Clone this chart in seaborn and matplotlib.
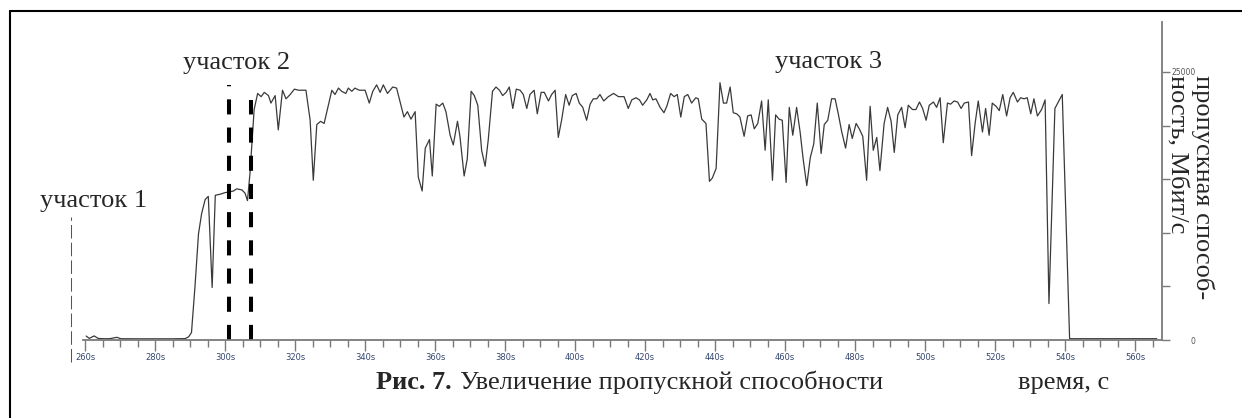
import matplotlib
matplotlib.use("Agg")
import matplotlib.pyplot as plt
from matplotlib.lines import Line2D
import seaborn as sns
import pandas as pd

# throughput trace: time (s) and Mbit/s
time_s = [
    260.3, 261.2, 262.6, 263.7, 265.0, 267.0, 269.1, 270.2, 275.0, 280.0,
    285.0, 288.6, 289.6, 290.4, 291.4, 292.4, 293.3, 294.3, 295.2, 296.3,
    297.2, 298.6, 300.0, 301.1, 302.4, 303.3, 304.8, 305.7, 306.4, 307.1,
    308.3, 309.3, 310.3, 311.2, 312.4, 313.1, 314.3, 315.2, 316.4, 317.4,
    318.6, 319.8, 321.0, 323.1, 324.3, 325.2, 326.2, 327.3, 328.3, 329.3,
    330.5, 331.4, 332.4, 333.3, 334.5, 335.2, 336.2, 337.1, 338.3, 340.0,
    341.2, 342.2, 343.3, 344.3, 345.2, 346.4, 347.9, 349.0, 350.0, 351.1,
    352.1, 353.1, 354.3, 355.2, 356.3, 357.2, 358.4, 359.2, 360.3, 361.2,
    362.2, 363.1, 364.3, 365.2, 366.4, 367.1, 368.3, 369.2, 370.3, 371.2,
    372.2, 373.3, 374.3, 375.2, 376.4, 377.4, 378.4, 379.3, 380.3, 381.2,
    382.2, 383.2, 384.3, 385.2, 386.2, 387.1, 388.3, 389.2, 390.3, 391.2,
    392.4, 393.3, 394.3, 395.2, 396.2, 397.3, 398.3, 399.2, 400.3, 401.2,
    402.2, 403.3, 404.3, 405.2, 406.2, 407.1, 408.2, 409.5, 411.0, 412.4,
    414.0, 415.2, 416.2, 417.4, 418.4, 419.3, 420.5, 421.4, 422.2, 423.1,
    424.3, 425.4, 426.2, 427.3, 428.3, 429.2, 430.2, 431.2, 432.2, 433.3,
    434.5, 435.2, 436.2, 437.4, 438.4, 439.2, 440.3, 441.4, 442.4, 443.3,
    444.3, 445.2, 446.2, 447.1, 448.3, 449.3, 450.3, 451.2, 452.2, 453.3,
    454.3, 455.2, 456.4, 457.3, 458.3, 459.2, 460.3, 461.2, 462.2, 463.3,
    464.3, 465.2, 466.2, 467.2, 468.2, 469.2, 470.3, 471.2, 472.2, 473.3,
    474.3, 475.2, 476.2, 477.3, 478.3, 479.2, 480.3, 481.2, 482.2, 483.3,
    484.3, 485.2, 486.2, 487.1, 488.3, 489.3, 490.3, 491.2, 492.2, 493.3,
    494.3, 495.2, 496.4, 497.4, 498.4, 499.3, 500.3, 501.2, 502.4, 503.3,
    504.3, 505.2, 506.4, 507.3, 508.3, 509.3, 510.3, 511.2, 512.4, 513.3,
    514.3, 515.2, 516.4, 517.3, 518.3, 519.2, 520.3, 521.2, 522.2, 523.3,
    524.3, 525.2, 526.4, 527.3, 528.3, 529.2, 530.2, 531.1, 532.1, 533.3,
    534.3, 535.4, 537.1, 539.2, 541.3, 545.0, 550.0, 555.0, 560.0, 566.2,
]
throughput = [
    370, 150, 380, 150, 120, 120, 250, 120, 110, 110,
    110, 130, 300, 700, 5000, 9900, 11800, 13100, 13400, 4900,
    13500, 13600, 13750, 13800, 13900, 14100, 14000, 13700, 13000, 15500,
    21500, 23000, 22700, 23100, 22800, 22100, 22800, 19600, 23300, 22500,
    22900, 23400, 23300, 23300, 20500, 14900, 20100, 20400, 20200, 21600,
    23300, 22900, 23500, 23200, 23000, 23500, 23200, 23500, 23300, 23300,
    22100, 23200, 23800, 23100, 23800, 23000, 23600, 23500, 22200, 20800,
    21300, 20600, 21300, 15200, 13900, 17900, 18700, 15300, 22000, 21800,
    22100, 21300, 19100, 18200, 20400, 19000, 15300, 16900, 23200, 22800,
    21900, 17700, 16200, 18700, 23200, 23600, 23300, 22800, 23100, 23600,
    21600, 23400, 23300, 22900, 21600, 22900, 23300, 21100, 23100, 23100,
    22300, 22900, 23300, 18900, 20600, 22900, 21900, 22800, 23000, 22100,
    21700, 20500, 22000, 22500, 22500, 22900, 22300, 22700, 23000, 22700,
    22700, 21600, 22400, 22600, 22400, 21900, 22400, 23000, 22400, 22500,
    21700, 21200, 21800, 23000, 22700, 22900, 20800, 22700, 22900, 22100,
    22600, 22500, 20600, 20200, 14800, 15100, 16000, 24000, 22100, 22100,
    23600, 21200, 21100, 20800, 19000, 20900, 21000, 19700, 20200, 22300,
    17700, 22400, 14900, 21000, 20600, 20500, 14700, 21700, 19100, 21700,
    19400, 16800, 14400, 17000, 18300, 22100, 17400, 20100, 20500, 22500,
    22500, 21100, 19400, 17900, 20100, 18800, 20200, 19700, 19000, 14900,
    21800, 17700, 18900, 15800, 20200, 21700, 20400, 17500, 21000, 21700,
    19800, 21900, 21500, 21500, 22200, 21600, 20500, 21900, 22200, 21700,
    22600, 18400, 22100, 22000, 22300, 22200, 21600, 22100, 22200, 17200,
    20200, 22300, 19400, 21600, 19100, 22100, 21800, 21400, 22900, 20900,
    22600, 23100, 22200, 22600, 22500, 22600, 21100, 22500, 20900, 21500,
    22400, 3400, 21600, 22900, 120, 120, 120, 120, 120, 120,
]

x_major = list(range(260, 561, 20))
x_labels = [f"{t}s" for t in x_major]
x_minor = list(range(260, 566, 5))
y_ticks = [0, 5000, 10000, 15000, 20000, 25000]
y_labels = ["0", "", "", "", "", "25000"]

# section markers (time, s)
mark_1 = 256.0
mark_2 = [301.1, 307.4]
mark_2_top = [23800, 22400]

sns.set_style("white")
plt.rcParams["font.family"] = ["Liberation Serif", "DejaVu Serif"]

W, H = 1242, 418
fig = plt.figure(figsize=(W / 100, H / 100), dpi=100)
ax = fig.add_axes([83 / W, 1 - 340 / H, (1162 - 83) / W, (340 - 22) / H])

df = pd.DataFrame({"t": time_s, "bw": throughput})
sns.lineplot(data=df, x="t", y="bw", ax=ax, color="#3a3a3a", lw=0.9)

ax.set_xlim(259.4, 567.7)
ax.set_ylim(0, 29664)
ax.set_xlabel("")
ax.set_ylabel("")

for side in ["left", "top"]:
    ax.spines[side].set_visible(False)
for side in ["right", "bottom"]:
    ax.spines[side].set_color("#7a7a7a")
    ax.spines[side].set_linewidth(1.3)

ax.set_xticks(x_major)
ax.set_xticklabels(x_labels, fontfamily="DejaVu Sans", fontsize=6, color="#34466e")
ax.set_xticks(x_minor, minor=True)
ax.tick_params(axis="x", which="major", direction="out", length=8, width=1,
               color="#7a7a7a", pad=1, bottom=True)
ax.tick_params(axis="x", which="minor", direction="out", length=5, width=1,
               color="#7a7a7a", bottom=True)

ax.yaxis.tick_right()
ax.set_yticks(y_ticks)
ax.set_yticklabels(y_labels, fontfamily="DejaVu Sans", fontsize=5.5, color="#555555")
ax.tick_params(axis="y", direction="out", length=6, width=1, color="#7a7a7a",
               pad=18, right=True, left=False)
for lab in ax.get_yticklabels():
    lab.set_ha("right")

# section borders
ax.plot([mark_1, mark_1], [-2050, 11500], color="#555555", lw=0.75,
        ls=(0, (13, 4)), clip_on=False)
for t, top in zip(mark_2, mark_2_top):
    ax.plot([t, t], [0, top], color="black", lw=2.9, ls=(0, (3.75, 3.25)),
            clip_on=False)

# frame of the figure (top and left edges only)
fig.add_artist(Line2D([10 / W, 1], [1 - 11 / H, 1 - 11 / H], color="black",
                      lw=1.5, transform=fig.transFigure))
fig.add_artist(Line2D([10 / W, 10 / W], [0, 1 - 11 / H], color="black",
                      lw=1.5, transform=fig.transFigure))

fs = 19
fig.text(40 / W, 1 - 207 / H, "участок 1", fontsize=fs, ha="left", va="baseline")
fig.text(183 / W, 1 - 69 / H, "участок 2", fontsize=fs, ha="left", va="baseline")
fig.text(775 / W, 1 - 68 / H, "участок 3", fontsize=fs, ha="left", va="baseline")

fig.text(376 / W, 1 - 389 / H, "Рис. 7.", fontsize=fs, fontweight="bold",
         ha="left", va="baseline")
fig.text(460 / W, 1 - 389 / H, "Увеличение пропускной способности", fontsize=fs,
         ha="left", va="baseline")
fig.text(1018 / W, 1 - 389 / H, "время, с", fontsize=fs, ha="left", va="baseline")

fig.text(1190 / W, 1 - 75 / H, "пропускная способ-\nность, Мбит/с", fontsize=fs,
         rotation=270, ha="center", va="top", multialignment="left")

fig.savefig("out.png", dpi=100, facecolor="white")
